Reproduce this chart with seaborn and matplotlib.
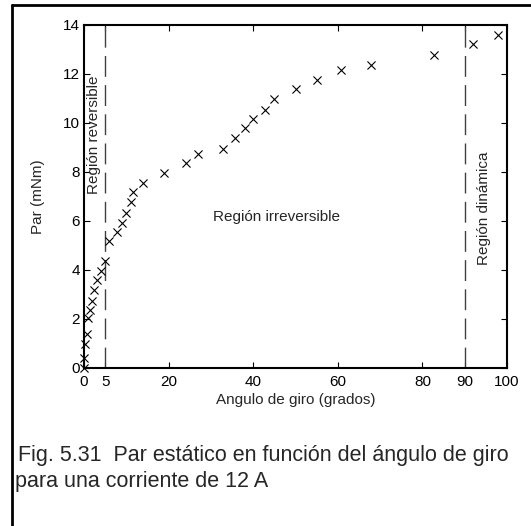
import matplotlib
matplotlib.use("Agg")
import matplotlib.pyplot as plt
from matplotlib.lines import Line2D
import seaborn as sns
import pandas as pd

# Static torque measurements vs. rotation angle (12 A)
angulo = [0.0, 0.0, 0.35, 0.7, 1.0, 1.5, 2.0, 2.4, 3.0, 3.9, 5.0, 6.0, 7.9, 8.9,
          9.9, 11.0, 11.7, 14.0, 18.9, 24.1, 27.0, 32.9, 35.8, 38.1, 40.0, 42.8,
          44.9, 50.0, 55.0, 60.8, 67.8, 82.8, 91.9, 97.8]
par = [0.0, 0.41, 0.98, 1.39, 2.02, 2.37, 2.73, 3.18, 3.59, 3.96, 4.37, 5.18, 5.56,
       5.93, 6.34, 6.78, 7.2, 7.56, 7.97, 8.38, 8.74, 8.95, 9.37, 9.78, 10.16,
       10.55, 10.98, 11.38, 11.76, 12.16, 12.37, 12.78, 13.22, 13.59]

limites = [5, 90]
xticks = [0, 5, 20, 40, 60, 80, 90, 100]
yticks = [0, 2, 4, 6, 8, 10, 12, 14]

sns.set_style("ticks")
plt.rcParams["font.family"] = ["Liberation Sans", "DejaVu Sans"]

df = pd.DataFrame({"angulo": angulo, "par": par})

fig = plt.figure(figsize=(5.31, 5.26), dpi=100)
ax = fig.add_axes([0.1582, 0.3004, 0.7966, 0.6521])

sns.scatterplot(data=df, x="angulo", y="par", marker="x", color="black",
                s=34, linewidth=0.8, ax=ax, zorder=3, clip_on=False)

for xl in limites:
    ax.axvline(xl, color="#404040", lw=1.0, dashes=(15, 6))

ax.set_xlim(0, 100)
ax.set_ylim(0, 14)
ax.set_xticks(xticks)
ax.set_yticks(yticks)
ax.tick_params(direction="in", length=4, width=0.8, top=True, right=True,
               labelsize=11, colors="black")
ax.tick_params(axis="x", pad=5)
ax.tick_params(axis="y", pad=3)
for s in ax.spines.values():
    s.set_linewidth(1.5)
    s.set_color("black")

ax.set_xlabel("Angulo de giro (grados)", fontsize=11, labelpad=3)
ax.set_ylabel("Par (mNm)", fontsize=11, labelpad=13)

ax.text(2.4, 9.5, "Región reversible", rotation=90, ha="center", va="center",
        fontsize=11)
ax.text(45.6, 6.16, "Región irreversible", ha="center", va="center", fontsize=11)
ax.text(94.6, 6.5, "Región dinámica", rotation=90, ha="center", va="center",
        fontsize=11)

fig.text(18 / 531, 1 - 455 / 526,
         "Fig. 5.31  Par estático en función del ángulo de giro",
         ha="left", va="center", fontsize=15.5)
fig.text(15 / 531, 1 - 482 / 526, "para una corriente de 12 A",
         ha="left", va="center", fontsize=15.5)

# page frame: top and left rules
fig.add_artist(Line2D([12 / 531, 1.0], [1 - 5 / 526, 1 - 5 / 526],
                      transform=fig.transFigure, color="black", lw=2))
fig.add_artist(Line2D([12 / 531, 12 / 531], [0.0, 1 - 5 / 526],
                      transform=fig.transFigure, color="black", lw=2))

fig.savefig("out.png", dpi=100)
